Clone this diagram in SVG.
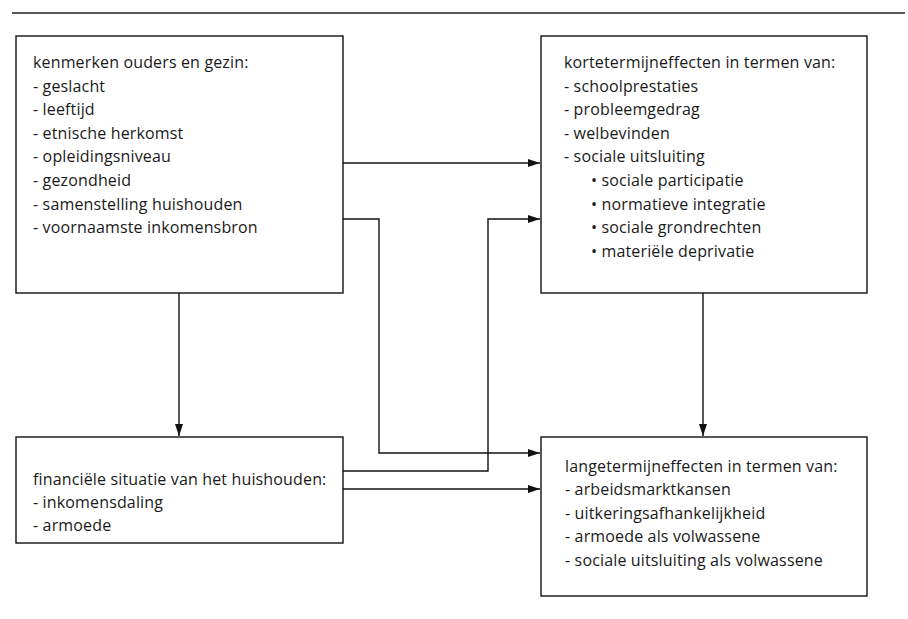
<svg xmlns="http://www.w3.org/2000/svg" width="908" height="619" viewBox="0 0 908 619">
<style>
.box{fill:#fff;stroke:#111;stroke-width:1.4}
.t{font-family:"Open Sans","Noto Sans",sans-serif;font-size:16px;letter-spacing:0.15px;fill:#1a1a1a}
.c{fill:none;stroke:#111;stroke-width:1.4}
</style>
<defs>
<marker id="ah" markerWidth="12" markerHeight="8" refX="12" refY="4" orient="auto" markerUnits="userSpaceOnUse">
<path d="M0,0 L12,4 L0,8 Z" fill="#111"/>
</marker>
</defs>
<rect width="908" height="619" fill="#fff"/>
<line x1="12" y1="13" x2="905" y2="13" stroke="#222" stroke-width="1.3"/>
<g id="connectors">
<path class="c" d="M343,163 H540" marker-end="url(#ah)"/>
<path class="c" d="M343,219 H379 V453 H540" marker-end="url(#ah)"/>
<path class="c" d="M343,471 H488 V219 H540" marker-end="url(#ah)"/>
<path class="c" d="M343,489 H540" marker-end="url(#ah)"/>
<path class="c" d="M179,293 V436" marker-end="url(#ah)"/>
<path class="c" d="M703,293 V436" marker-end="url(#ah)"/>
</g>
<g id="kenmerken">
<rect class="box" x="16" y="36" width="327" height="257"/>
<text class="t" x="33" y="68">kenmerken ouders en gezin:</text>
<text class="t" x="33" y="91.6">- geslacht</text>
<text class="t" x="33" y="115.2">- leeftijd</text>
<text class="t" x="33" y="138.8">- etnische herkomst</text>
<text class="t" x="33" y="162.4">- opleidingsniveau</text>
<text class="t" x="33" y="186">- gezondheid</text>
<text class="t" x="33" y="209.6">- samenstelling huishouden</text>
<text class="t" x="33" y="233.2">- voornaamste inkomensbron</text>
</g>
<g id="korte">
<rect class="box" x="541" y="36" width="326" height="257"/>
<text class="t" x="564" y="68">kortetermijneffecten in termen van:</text>
<text class="t" x="564" y="91.6">- schoolprestaties</text>
<text class="t" x="564" y="115.2">- probleemgedrag</text>
<text class="t" x="564" y="138.8">- welbevinden</text>
<text class="t" x="564" y="162.4">- sociale uitsluiting</text>
<text class="t" x="591" y="186">• sociale participatie</text>
<text class="t" x="591" y="209.6">• normatieve integratie</text>
<text class="t" x="591" y="233.2">• sociale grondrechten</text>
<text class="t" x="591" y="256.8">• materiële deprivatie</text>
</g>
<g id="financieel">
<rect class="box" x="16" y="437" width="327" height="106"/>
<text class="t" x="33" y="485">financiële situatie van het huishouden:</text>
<text class="t" x="33" y="508">- inkomensdaling</text>
<text class="t" x="33" y="531">- armoede</text>
</g>
<g id="lange">
<rect class="box" x="541" y="437" width="326" height="159"/>
<text class="t" x="565" y="472">langetermijneffecten in termen van:</text>
<text class="t" x="565" y="495.4">- arbeidsmarktkansen</text>
<text class="t" x="565" y="518.8">- uitkeringsafhankelijkheid</text>
<text class="t" x="565" y="542.2">- armoede als volwassene</text>
<text class="t" x="565" y="565.6">- sociale uitsluiting als volwassene</text>
</g>
</svg>
